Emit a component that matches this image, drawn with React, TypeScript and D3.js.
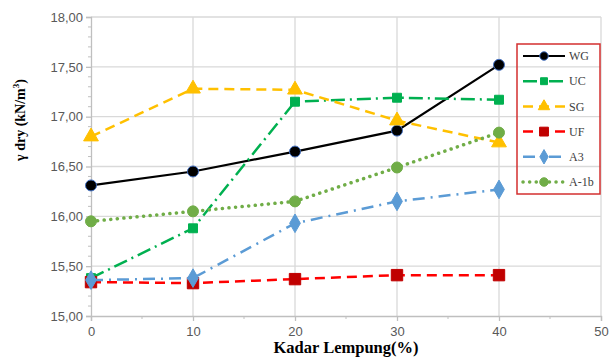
import React, { useEffect, useRef } from "react";
import * as d3 from "d3";

const kadar = [0, 10, 20, 30, 40];
const WG = [16.31, 16.45, 16.65, 16.86, 17.52];
const UC = [15.38, 15.88, 17.15, 17.19, 17.17];
const SG = [16.8, 17.28, 17.27, 16.96, 16.74];
const UF = [15.34, 15.33, 15.37, 15.41, 15.41];
const A3 = [15.36, 15.38, 15.93, 16.15, 16.27];
const A1b = [15.95, 16.05, 16.15, 16.49, 16.84];
const seriesNames = ["WG", "UC", "SG", "UF", "A3", "A-1b"];
const yTicks = [15, 15.5, 16, 16.5, 17, 17.5, 18];
const xTicks = [0, 10, 20, 30, 40, 50];

const App: React.FC = () => {
  const svgRef = useRef<SVGSVGElement | null>(null);

  useEffect(() => {
    const width = 613;
    const height = 358;
    const marginLeft = 91;
    const marginRight = 12;
    const marginTop = 17;
    const marginBottom = 42;

    const x = d3.scaleLinear().domain([0, 50]).range([marginLeft, width - marginRight]);
    const y = d3.scaleLinear().domain([15, 18]).range([height - marginBottom, marginTop]);

    const svg = d3.select(svgRef.current);
    svg.selectAll("*").remove();
    svg.attr("width", width).attr("height", height).attr("viewBox", [0, 0, width, height]);

    svg.append("rect").attr("width", width).attr("height", height).attr("fill", "#fff");

    // gridlines
    const grid = svg.append("g").attr("stroke", "#d9d9d9").attr("stroke-width", 1.3);
    grid
      .selectAll(".hg")
      .data(yTicks.slice(1))
      .enter()
      .append("line")
      .attr("x1", x(0))
      .attr("x2", x(50))
      .attr("y1", (d) => y(d))
      .attr("y2", (d) => y(d));
    grid
      .selectAll(".vg")
      .data(xTicks.slice(1))
      .enter()
      .append("line")
      .attr("x1", (d) => x(d))
      .attr("x2", (d) => x(d))
      .attr("y1", y(15))
      .attr("y2", y(18));

    // axes
    const axisColor = "#bfbfbf";
    const gx = svg
      .append("g")
      .attr("transform", `translate(0,${y(15)})`)
      .call(d3.axisBottom(x).tickValues(xTicks).tickSize(5).tickFormat(d3.format("d")));
    gx.select(".domain").attr("stroke", axisColor).attr("stroke-width", 1.3);
    gx.selectAll(".tick line").attr("stroke", axisColor).attr("stroke-width", 1.3);
    gx.selectAll("text")
      .attr("fill", "#595959")
      .style("font", "13px 'Liberation Sans', Arial, sans-serif")
      .attr("dy", "0.95em");
    gx.append("g")
      .selectAll("line")
      .data([5, 15, 25, 35, 45])
      .enter()
      .append("line")
      .attr("x1", (d) => x(d))
      .attr("x2", (d) => x(d))
      .attr("y1", 0)
      .attr("y2", 3)
      .attr("stroke", axisColor);

    const gy = svg
      .append("g")
      .attr("transform", `translate(${x(0)},0)`)
      .call(
        d3
          .axisLeft(y)
          .tickValues(yTicks)
          .tickSize(5)
          .tickFormat((d) => d3.format(".2f")(d as number).replace(".", ",")),
      );
    gy.select(".domain").attr("stroke", axisColor).attr("stroke-width", 1.3);
    gy.selectAll(".tick line").attr("stroke", axisColor).attr("stroke-width", 1.3);
    gy.selectAll("text")
      .attr("fill", "#595959")
      .attr("x", -8)
      .style("font", "13px 'Liberation Sans', Arial, sans-serif");
    gy.append("g")
      .selectAll("line")
      .data(d3.range(15.1, 18, 0.1).filter((v) => Math.abs(v * 2 - Math.round(v * 2)) > 0.01))
      .enter()
      .append("line")
      .attr("x1", -3)
      .attr("x2", 0)
      .attr("y1", (d) => y(d))
      .attr("y2", (d) => y(d))
      .attr("stroke", axisColor);

    // axis titles
    svg
      .append("text")
      .attr("x", 346)
      .attr("y", 353)
      .attr("text-anchor", "middle")
      .attr("font-family", "'Liberation Serif', 'Times New Roman', serif")
      .attr("font-weight", "bold")
      .attr("font-size", 16.5)
      .text("Kadar Lempung(%)");

    const yl = svg
      .append("text")
      .attr("transform", `translate(25,120) rotate(-90)`)
      .attr("text-anchor", "middle")
      .attr("font-family", "'Liberation Serif', 'Times New Roman', serif")
      .attr("font-weight", "bold")
      .attr("font-size", 14);
    yl.append("tspan").text("γ dry (kN/m");
    yl.append("tspan").attr("font-size", 9).attr("dy", -6).text("3");
    yl.append("tspan").attr("dy", 6).text(")");

    // series styling
    type Style = {
      values: number[];
      color: string;
      width: number;
      dash: string;
      cap: string;
      marker: string;
      mfill: string;
      mstroke: string;
      msize: number;
    };
    const styles: Style[] = [
      { values: WG, color: "#000000", width: 2.2, dash: "", cap: "butt", marker: "circle", mfill: "#000", mstroke: "#4472c4", msize: 95 },
      { values: UC, color: "#00b050", width: 2.5, dash: "14,5,2,5", cap: "butt", marker: "square", mfill: "#00b050", mstroke: "#00b050", msize: 80 },
      { values: SG, color: "#ffc000", width: 2.5, dash: "10,6", cap: "butt", marker: "triangle", mfill: "#ffc000", mstroke: "#ffc000", msize: 95 },
      { values: UF, color: "#ff0000", width: 2.5, dash: "10,6", cap: "butt", marker: "square", mfill: "#c00000", mstroke: "#c00000", msize: 130 },
      { values: A3, color: "#5b9bd5", width: 2.5, dash: "12,6,2,6", cap: "butt", marker: "diamond", mfill: "#5b9bd5", mstroke: "#5b9bd5", msize: 100 },
      { values: A1b, color: "#70ad47", width: 3.5, dash: "0.1,6.5", cap: "round", marker: "circle", mfill: "#70ad47", mstroke: "#70ad47", msize: 95 },
    ];
    const symbolOf = (m: string) =>
      m === "circle"
        ? d3.symbolCircle
        : m === "square"
          ? d3.symbolSquare
          : m === "triangle"
            ? d3.symbolTriangle
            : d3.symbolDiamond;

    const line = d3
      .line<number>()
      .x((_, i) => x(kadar[i]))
      .y((d) => y(d));

    styles.forEach((s) => {
      const g = svg.append("g");
      g.append("path")
        .attr("d", line(s.values))
        .attr("fill", "none")
        .attr("stroke", s.color)
        .attr("stroke-width", s.width)
        .attr("stroke-dasharray", s.dash)
        .attr("stroke-linecap", s.cap);
      g.selectAll("path.m")
        .data(s.values)
        .enter()
        .append("path")
        .attr("class", "m")
        .attr("d", d3.symbol().type(symbolOf(s.marker)).size(s.msize)())
        .attr("transform", (d, i) => `translate(${x(kadar[i])},${y(d)})`)
        .attr("fill", s.mfill)
        .attr("stroke", s.mstroke)
        .attr("stroke-width", 1);
    });

    // legend
    const lg = svg.append("g");
    lg.append("rect")
      .attr("x", 517)
      .attr("y", 44)
      .attr("width", 83)
      .attr("height", 150)
      .attr("fill", "none")
      .attr("stroke", "#d32f2f")
      .attr("stroke-width", 1.5);
    styles.forEach((s, i) => {
      const ly = 56 + i * 25.2;
      lg.append("line")
        .attr("x1", 523)
        .attr("x2", 565)
        .attr("y1", ly)
        .attr("y2", ly)
        .attr("stroke", s.color)
        .attr("stroke-width", s.width)
        .attr("stroke-dasharray", s.dash)
        .attr("stroke-linecap", s.cap);
      lg.append("path")
        .attr("d", d3.symbol().type(symbolOf(s.marker)).size(s.msize * 0.6)())
        .attr("transform", `translate(544,${ly})`)
        .attr("fill", s.mfill)
        .attr("stroke", s.mstroke);
      lg.append("text")
        .attr("x", 569)
        .attr("y", ly)
        .attr("dy", "0.35em")
        .attr("font-family", "'Liberation Serif', 'Times New Roman', serif")
        .attr("font-size", 12)
        .attr("fill", "#404040")
        .text(seriesNames[i]);
    });
  }, []);

  return (
    <div style={{ position: "absolute", left: 0, top: 0 }}>
      <svg ref={svgRef}></svg>
    </div>
  );
};

export default App;
